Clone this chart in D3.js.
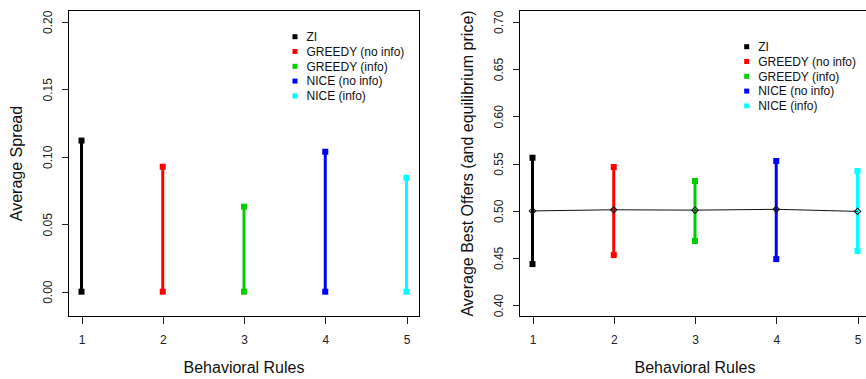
<!DOCTYPE html>
<html>
<head>
<meta charset="utf-8">
<script src="https://cdn.jsdelivr.net/npm/d3@7"></script>
<style>
  html, body { margin: 0; padding: 0; background: #fff; }
  svg { display: block; font-family: "Liberation Sans", Arial, sans-serif; }
</style>
</head>
<body>
<svg id="chart" width="866" height="379"></svg>
<script>
// Behavioral rules (x positions) and their legend names / colours
const rules = [1, 2, 3, 4, 5];
const ruleNames = ["ZI", "GREEDY (no info)", "GREEDY (info)", "NICE (no info)", "NICE (info)"];
const ruleColors = ["#000000", "#ff0000", "#00cd00", "#0000ff", "#00ffff"];

// Left panel: average spread (from 0 up to the value)
const spreadLow  = [0, 0, 0, 0, 0];
const spreadHigh = [0.112, 0.0926, 0.063, 0.1037, 0.0844];
const spreadTicks = [0.00, 0.05, 0.10, 0.15, 0.20];

// Right panel: average best bid / ask and equilibrium price
const bestAsk = [0.5561, 0.5463, 0.5315, 0.5526, 0.5420];
const bestBid = [0.4435, 0.4530, 0.4680, 0.4488, 0.4573];
const eqPrice = [0.4998, 0.5010, 0.5006, 0.5015, 0.4993];
const offerTicks = [0.40, 0.45, 0.50, 0.55, 0.60, 0.65, 0.70];

const xTicks = [1, 2, 3, 4, 5];

const svg = d3.select("#chart");

function panel(opts) {
  const { left, right, top, bottom, xDomain, yDomain, yTicks, yTitle,
          lows, highs, legendX, legendY, mean } = opts;
  const x = d3.scaleLinear().domain(xDomain).range([left, right]);
  const y = d3.scaleLinear().domain(yDomain).range([bottom, top]);
  const g = svg.append("g");

  // plot frame
  g.append("rect")
    .attr("x", left).attr("y", top)
    .attr("width", right - left).attr("height", bottom - top)
    .attr("fill", "none").attr("stroke", "#000").attr("stroke-width", 1)
    .attr("shape-rendering", "crispEdges");

  // x axis
  const xAxis = d3.axisBottom(x).tickValues(xTicks).tickSize(7).tickPadding(12)
    .tickFormat(d3.format("d"));
  const gx = g.append("g").attr("transform", `translate(0,${bottom})`).call(xAxis);
  gx.select(".domain").remove();
  gx.selectAll(".tick line").attr("stroke", "#222").attr("shape-rendering", "crispEdges");
  gx.selectAll(".tick text").attr("font-size", 12).attr("fill", "#222")
    .attr("font-family", "Liberation Sans, Arial, sans-serif");

  // y axis with rotated labels
  const yAxis = d3.axisLeft(y).tickValues(yTicks).tickSize(7)
    .tickFormat(d3.format(".2f"));
  const gy = g.append("g").attr("transform", `translate(${left},0)`).call(yAxis);
  gy.select(".domain").remove();
  gy.selectAll(".tick line").attr("stroke", "#222").attr("shape-rendering", "crispEdges");
  gy.selectAll(".tick text")
    .attr("font-size", 12).attr("fill", "#222")
    .attr("font-family", "Liberation Sans, Arial, sans-serif")
    .attr("x", null).attr("dy", null)
    .attr("text-anchor", "middle")
    .attr("transform", "translate(-16.5,0) rotate(-90)");

  // axis titles
  g.append("text")
    .attr("x", (left + right) / 2).attr("y", 373)
    .attr("text-anchor", "middle").attr("font-size", 16).attr("fill", "#111")
    .text("Behavioral Rules");
  g.append("text")
    .attr("transform", `translate(${left - 47},${(top + bottom) / 2}) rotate(-90)`)
    .attr("text-anchor", "middle").attr("font-size", 16).attr("fill", "#111")
    .text(yTitle);

  // vertical ranges
  rules.forEach((r, i) => {
    g.append("line")
      .attr("x1", x(r)).attr("x2", x(r))
      .attr("y1", y(lows[i])).attr("y2", y(highs[i]))
      .attr("stroke", ruleColors[i]).attr("stroke-width", 3);
  });

  // mean line with open diamonds
  if (mean) {
    const line = d3.line().x((d, i) => x(rules[i])).y(d => y(d));
    g.append("path").datum(mean).attr("d", line)
      .attr("fill", "none").attr("stroke", "#111").attr("stroke-width", 1);
  }

  // end markers
  rules.forEach((r, i) => {
    [lows[i], highs[i]].forEach(v => {
      g.append("rect")
        .attr("x", x(r) - 3).attr("y", y(v) - 3)
        .attr("width", 6).attr("height", 6)
        .attr("fill", ruleColors[i]);
    });
  });

  if (mean) {
    const diamond = d3.symbol().type(d3.symbolDiamond2).size(26);
    mean.forEach((m, i) => {
      g.append("path").attr("d", diamond())
        .attr("transform", `translate(${x(rules[i])},${y(m)}) rotate(0)`)
        .attr("fill", "none").attr("stroke", "#111").attr("stroke-width", 1.1);
    });
  }

  // legend
  ruleNames.forEach((name, i) => {
    const cy = legendY + i * 14.8;
    g.append("rect")
      .attr("x", legendX - 2.5).attr("y", cy - 2.5)
      .attr("width", 5).attr("height", 5)
      .attr("fill", ruleColors[i]);
    g.append("text")
      .attr("x", legendX + 11.5).attr("y", cy + 4.3)
      .attr("font-size", 12).attr("fill", "#111")
      .text(name);
  });
}

panel({
  left: 68.5, right: 419.5, top: 10.5, bottom: 316.5,
  xDomain: [0.84, 5.16], yDomain: [-0.0184, 0.2084], yTicks: spreadTicks,
  yTitle: "Average Spread",
  lows: spreadLow, highs: spreadHigh,
  legendX: 295, legendY: 36.7
});

panel({
  left: 519.5, right: 870.5, top: 10.5, bottom: 316.5,
  xDomain: [0.84, 5.16], yDomain: [0.388, 0.712], yTicks: offerTicks,
  yTitle: "Average Best Offers (and equilibrium price)",
  lows: bestBid, highs: bestAsk,
  legendX: 746.7, legendY: 46.7, mean: eqPrice
});
</script>
</body>
</html>
